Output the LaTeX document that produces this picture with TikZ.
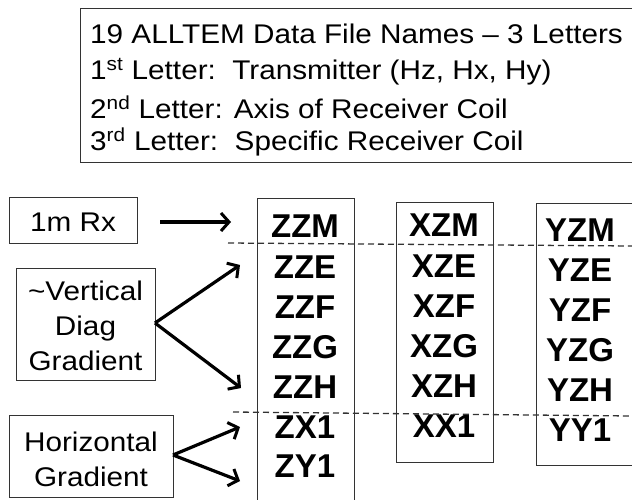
\documentclass[tikz,border=0pt]{standalone}
\usepackage{fontspec}
\setmainfont{Liberation Sans}
\usetikzlibrary{arrows.meta}
\begin{document}
\begin{tikzpicture}[x=1pt,y=-1pt,
  frame/.style={draw=black!80,line width=0.9pt},
  lbl/.style={font=\fontsize{27}{35}\selectfont,align=center,inner sep=0pt,xscale=1.1},
  fname/.style={font=\fontsize{33}{36}\selectfont\bfseries,inner sep=0pt},
  hdr/.style={font=\fontsize{27}{30}\selectfont,anchor=west,inner sep=0pt,xscale=1.1},
  arr/.style={line width=3.2pt,-{Straight Barb[length=8pt,width=18pt,line width=3pt]}},
  sep/.style={black!80,line width=1.3pt,dash pattern=on 6pt off 4pt}]
\useasboundingbox (0,0) rectangle (632,500);
\clip (0,0) rectangle (632,500);
% header box
\draw[frame] (80,8) rectangle (640,162);
\node[hdr] (h1) at (90,34) {19 ALLTEM Data File Names -- 3 Letters};
\node[hdr] (h2) at (90,72) {1\textsuperscript{st} Letter:\ \ Transmitter (Hz, Hx, Hy)};
\node[hdr] (h3) at (90,107) {2\textsuperscript{nd} Letter: Axis of Receiver Coil};
\node[hdr] (h4) at (90,142) {3\textsuperscript{rd} Letter:\ \ Specific Receiver Coil};
% left label boxes
\draw[frame] (9,197) rectangle (137,243);
\node[lbl] (rx) at (73,222) {1m Rx};
\draw[frame] (16,268) rectangle (155,380);
\node[lbl] (vd) at (85.5,326) {\textasciitilde Vertical\\Diag\\Gradient};
\draw[frame] (9,415) rectangle (173,497);
\node[lbl] (hg) at (91,459) {Horizontal\\Gradient};
% columns
\draw[frame] (257,198) rectangle (354,510);
\draw[frame] (396,202) rectangle (493,462);
\draw[frame] (536,203) rectangle (640,465);
\foreach \n/\t/\y in {zzm/ZZM/226,zze/ZZE/267,zzf/ZZF/307,zzg/ZZG/347,zzh/ZZH/387,zxa/ZX1/427,zya/ZY1/466}
  \node[fname] (\n) at (305,\y) {\t};
\foreach \n/\t/\y in {xzm/XZM/225,xze/XZE/266,xzf/XZF/306,xzg/XZG/346,xzh/XZH/386,xxa/XX1/426}
  \node[fname] (\n) at (444,\y) {\t};
\foreach \n/\t/\y in {yzm/YZM/230,yze/YZE/270,yzf/YZF/310,yzg/YZG/350,yzh/YZH/390,yya/YY1/430}
  \node[fname] (\n) at (580,\y) {\t};
% dashed separators
\coordinate (d1a) at (228,243);
\coordinate (d1b) at (632,246);
\coordinate (d2a) at (233,412);
\coordinate (d2b) at (632,416);
\draw[sep] (d1a) -- (d1b);
\draw[sep] (d2a) -- (d2b);
% arrows
\coordinate (rxs) at (160,222);
\coordinate (vsrc) at (155,323);
\coordinate (hsrc) at (173,455);
\coordinate (trx) at (231,222);
\coordinate (tze) at (240,265);
\coordinate (tzh) at (241,388);
\coordinate (tzx) at (240,427);
\coordinate (tzy) at (240,481);
\draw[arr] (rxs) -- (trx);
\draw[arr] (vsrc) -- (tze);
\draw[arr] (vsrc) -- (tzh);
\draw[arr] (hsrc) -- (tzx);
\draw[arr] (hsrc) -- (tzy);
\end{tikzpicture}
\end{document}
